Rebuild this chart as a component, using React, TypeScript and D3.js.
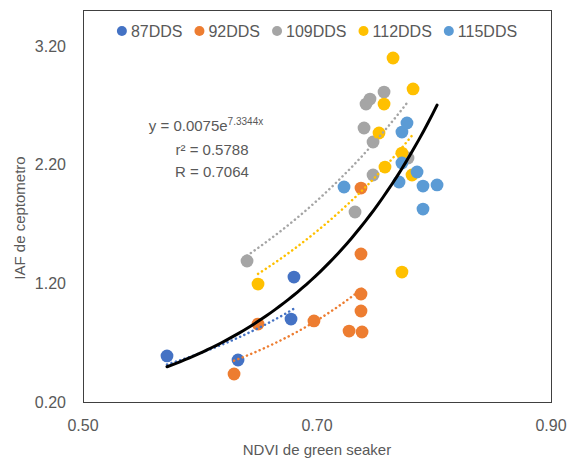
import React, { useEffect, useRef } from "react";
import * as d3 from "d3";

const seriesNames = ["87DDS", "92DDS", "109DDS", "112DDS", "115DDS"];
const seriesColors = ["#4472C4", "#ED7D31", "#A5A5A5", "#FFC000", "#5B9BD5"];

const x87 = [0.5718, 0.6325, 0.6778, 0.6803];
const y87 = [0.588, 0.554, 0.899, 1.253];

const x92 = [0.6291, 0.6496, 0.6974, 0.7274, 0.7385, 0.7376, 0.7376, 0.7376, 0.7376];
const y92 = [0.436, 0.857, 0.883, 0.798, 0.79, 0.967, 1.11, 1.447, 2.003];

const x109 = [0.6402, 0.7325, 0.7479, 0.7479, 0.7402, 0.7453, 0.7419, 0.7573, 0.7778];
const y109 = [1.388, 1.801, 2.113, 2.391, 2.509, 2.753, 2.711, 2.812, 2.256];

const x112 = [0.6496, 0.753, 0.7573, 0.765, 0.7821, 0.7726, 0.7581, 0.7812, 0.7726];
const y112 = [1.194, 2.467, 2.711, 3.099, 2.838, 2.298, 2.18, 2.113, 1.295];

const x115 = [0.7231, 0.7701, 0.7726, 0.7726, 0.7769, 0.7855, 0.7906, 0.8026, 0.7906];
const y115 = [2.012, 2.054, 2.214, 2.475, 2.551, 2.138, 2.02, 2.029, 1.826];

const seriesX = [x87, x92, x109, x112, x115];
const seriesY = [y87, y92, y109, y112, y115];
const seriesTrend = [true, true, true, true, false];

const xTicks = [0.5, 0.7, 0.9];
const yTicks = [0.2, 1.2, 2.2, 3.2];

const trendA = 0.0075;
const trendB = 7.3344;
const eqLines = ["r² = 0.5788", "R = 0.7064"];

const FONT = "'Liberation Sans', Arial, sans-serif";
const TXT = "#595959";

function expFit(xs: number[], ys: number[]) {
  const ls = ys.map((v) => Math.log(v));
  const mx = d3.mean(xs) as number;
  const ml = d3.mean(ls) as number;
  let sxy = 0, sxx = 0;
  xs.forEach((x, i) => {
    sxy += (x - mx) * (ls[i] - ml);
    sxx += (x - mx) * (x - mx);
  });
  const b = sxy / sxx;
  const a = Math.exp(ml - b * mx);
  return { a, b };
}

export default function App() {
  const ref = useRef<SVGSVGElement>(null);

  useEffect(() => {
    const svg = d3.select(ref.current);
    svg.selectAll("*").remove();
    const L = 83, R = 551, T = 10, B = 402;
    const x = d3.scaleLinear().domain([0.5, 0.9]).range([L, R]);
    const y = d3.scaleLinear().domain([0.2, 3.2]).range([B, 46]);

    svg.append("rect").attr("x", 0).attr("y", 0).attr("width", 570).attr("height", 460).attr("fill", "#fff");

    // frame
    svg.append("rect").attr("x", L + 0.5).attr("y", T + 0.5).attr("width", R - L).attr("height", B - T)
      .attr("fill", "none").attr("stroke", "#404040").attr("stroke-width", 1);

    // ticks
    svg.selectAll(".yt").data(yTicks).enter().append("text")
      .attr("x", 66).attr("y", (d) => y(d)).attr("dy", "0.35em")
      .attr("text-anchor", "end").attr("font-family", FONT).attr("font-size", 16).attr("fill", TXT)
      .text((d) => d.toFixed(2));
    svg.selectAll(".xt").data(xTicks).enter().append("text")
      .attr("x", (d) => x(d)).attr("y", 431)
      .attr("text-anchor", "middle").attr("font-family", FONT).attr("font-size", 16).attr("fill", TXT)
      .text((d) => d.toFixed(2));

    svg.append("text").attr("x", (L + R) / 2).attr("y", 455).attr("text-anchor", "middle")
      .attr("font-family", FONT).attr("font-size", 15).attr("fill", TXT).text("NDVI de green seaker");
    svg.append("text").attr("transform", `translate(20,${(T + B) / 2 + 12}) rotate(-90)`).attr("text-anchor", "middle")
      .attr("dy", "0.35em")
      .attr("font-family", FONT).attr("font-size", 15).attr("fill", TXT).text("IAF de ceptometro");

    // points
    seriesX.forEach((xs, si) => {
      const g = svg.append("g");
      g.selectAll("circle").data(xs.map((v, i) => [v, seriesY[si][i]])).enter().append("circle")
        .attr("cx", (d) => x(d[0])).attr("cy", (d) => y(d[1])).attr("r", 6.4)
        .attr("fill", seriesColors[si]);
    });

    // series trends
    const line = d3.line<number[]>().x((d) => x(d[0])).y((d) => y(d[1]));
    seriesX.forEach((xs, si) => {
      if (!seriesTrend[si]) return;
      const { a, b } = expFit(xs, seriesY[si]);
      const [x0, x1] = d3.extent(xs) as [number, number];
      const pts = d3.range(0, 41).map((k) => {
        const xv = x0 + ((x1 - x0) * k) / 40;
        return [xv, a * Math.exp(b * xv)];
      });
      svg.append("path").attr("d", line(pts) as string).attr("fill", "none")
        .attr("stroke", seriesColors[si]).attr("stroke-width", 2.5)
        .attr("stroke-dasharray", "0.1,4.5").attr("stroke-linecap", "round");
    });

    // overall trend
    const allX = seriesX.flat();
    const [ax0, ax1] = d3.extent(allX) as [number, number];
    const tp = d3.range(0, 61).map((k) => {
      const xv = ax0 + ((ax1 - ax0) * k) / 60;
      return [xv, trendA * Math.exp(trendB * xv)];
    });
    svg.append("path").attr("d", line(tp) as string).attr("fill", "none")
      .attr("stroke", "#000").attr("stroke-width", 3).attr("stroke-linecap", "round");

    // equation
    const eq = svg.append("text").attr("x", 206).attr("y", 131).attr("text-anchor", "middle")
      .attr("font-family", FONT).attr("font-size", 15).attr("fill", TXT);
    eq.append("tspan").text(`y = ${trendA}e`);
    eq.append("tspan").attr("font-size", 10).attr("dy", -6).text(`${trendB}x`);
    eqLines.forEach((t, i) => {
      svg.append("text").attr("x", 212).attr("y", 155 + i * 22).attr("text-anchor", "middle")
        .attr("font-family", FONT).attr("font-size", 15).attr("fill", TXT).text(t);
    });

    // legend
    const lg = svg.append("g");
    let cx = 0;
    seriesNames.forEach((n, i) => {
      lg.append("circle").attr("cx", cx).attr("cy", 31).attr("r", 5).attr("fill", seriesColors[i]);
      const t = lg.append("text").attr("x", cx + 9).attr("y", 31).attr("dy", "0.35em")
        .attr("font-family", FONT).attr("font-size", 16).attr("fill", TXT).text(n);
      const w = (t.node() as SVGTextElement).getComputedTextLength();
      cx = cx + 9 + w + 17;
    });
    const bb = (lg.node() as SVGGElement).getBBox();
    lg.attr("transform", `translate(${(L + R) / 2 - bb.width / 2 - bb.x},0)`);
  }, []);

  return (
    <svg ref={ref} width={570} height={460} style={{ position: "absolute", left: 0, top: 0 }} />
  );
}
